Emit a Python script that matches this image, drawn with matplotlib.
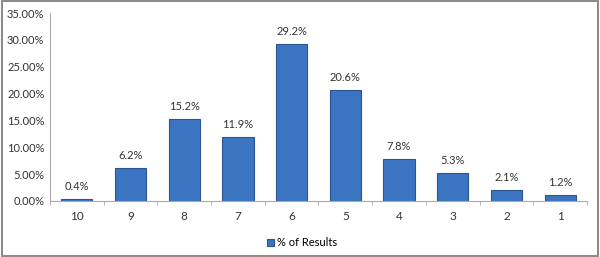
import matplotlib.pyplot as plt
import matplotlib.patches as mpatches
import numpy as np

plt.rcParams['font.family'] = ['Lato', 'DejaVu Sans']

categories = ['10', '9', '8', '7', '6', '5', '4', '3', '2', '1']
values = [0.4, 6.2, 15.2, 11.9, 29.2, 20.6, 7.8, 5.3, 2.1, 1.2]
labels = ['0.4%', '6.2%', '15.2%', '11.9%', '29.2%', '20.6%', '7.8%', '5.3%', '2.1%', '1.2%']
yticks = [0, 5, 10, 15, 20, 25, 30, 35]

fig = plt.figure(figsize=(6, 2.57), dpi=100)
fig.patches.append(mpatches.Rectangle((0.003, 0.005), 0.994, 0.99, transform=fig.transFigure,
                                      fill=False, edgecolor='#8c8c8c', linewidth=1.5))
ax = fig.add_axes([0.0833, 0.218, 0.895, 0.731])

x = np.arange(len(categories))
bars = ax.bar(x, values, width=0.58, color='#3b74c0', edgecolor='#2a5592', linewidth=0.8,
              label='% of Results')

for xi, v, lab in zip(x, values, labels):
    ax.text(xi, v + 1.3, lab, ha='center', va='bottom', fontsize=8, color='#333333')

ax.set_xlim(-0.5, len(categories) - 0.5)
ax.set_ylim(0, 35)
ax.set_yticks(yticks)
ax.set_yticklabels(['%.2f%%' % t for t in yticks])
ax.set_xticks(x)
ax.set_xticklabels(categories)
ax.set_xticks(np.arange(-0.5, len(categories)), minor=True)
ax.tick_params(axis='x', which='major', length=0, pad=7, labelsize=8.5, colors='#333333')
ax.tick_params(axis='x', which='minor', length=3, color='#aaaaaa')
ax.tick_params(axis='y', length=0, pad=4, labelsize=8, colors='#333333')

for s in ['top', 'right']:
    ax.spines[s].set_visible(False)
ax.spines['left'].set_color('#aaaaaa')
ax.spines['bottom'].set_color('#aaaaaa')

ax.legend(loc='upper center', bbox_to_anchor=(0.47, -0.14), frameon=False, fontsize=8,
          handlelength=0.6, handleheight=0.6, handletextpad=0.3)

fig.savefig('out.png', dpi=100)
